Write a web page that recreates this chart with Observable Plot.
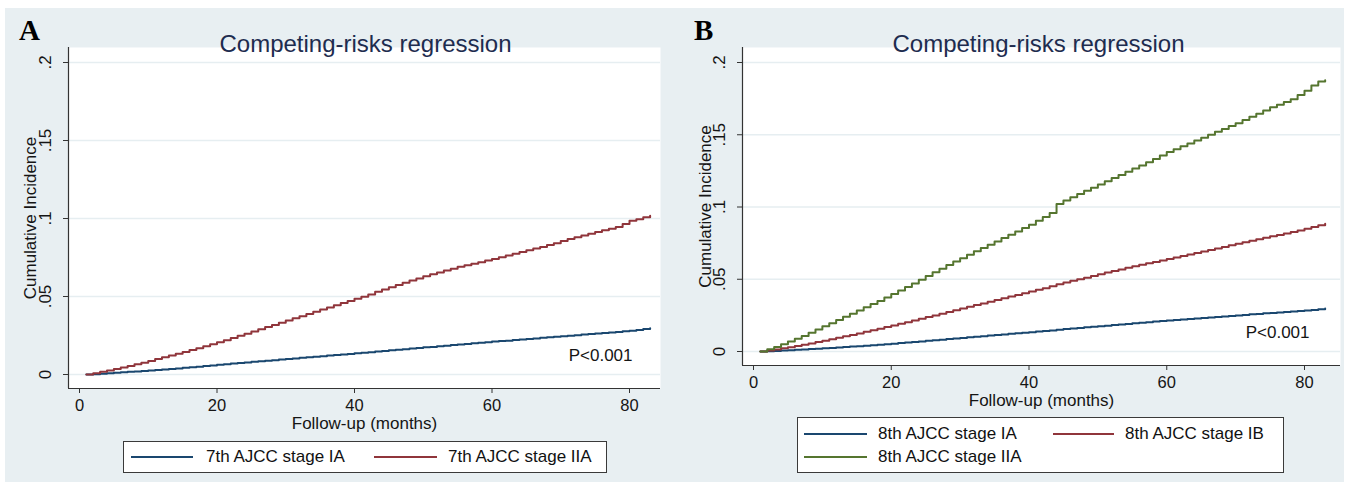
<!DOCTYPE html>
<html><head><meta charset="utf-8">
<script src="https://cdn.jsdelivr.net/npm/d3@7"></script>
<script src="https://cdn.jsdelivr.net/npm/@observablehq/plot@0.6"></script>
<style>
body{margin:0;background:#fff;}
#root{position:relative;width:1349px;height:490px;overflow:hidden;background:#fff;font-family:"Liberation Sans",Arial,sans-serif;}
.bg{position:absolute;left:5px;top:8px;width:1339px;height:474px;background:#e8eff2;}
.panel{position:absolute;top:8px;}
.letter{position:absolute;font-family:"Liberation Serif","Times New Roman",serif;font-weight:bold;font-size:29px;line-height:29px;color:#000;}
.legend{position:absolute;background:#fff;border:1px solid #3a3a3a;box-sizing:border-box;}
.item{position:absolute;font-size:17px;line-height:20px;color:#111;white-space:nowrap;}
.sw{position:absolute;height:2px;}
</style></head><body><div id="root"><div class="bg"></div></div>
<script>
const months = [1,2,3,4,5,6,7,8,9,10,11,12,13,14,15,16,17,18,19,20,21,22,23,24,25,26,27,28,29,30,31,32,33,34,35,36,37,38,39,40,41,42,43,44,45,46,47,48,49,50,51,52,53,54,55,56,57,58,59,60,61,62,63,64,65,66,67,68,69,70,71,72,73,74,75,76,77,78,79,80,81,82,83];

// Panel A: 7th AJCC
const stageIA7 = [0,.0002,.0005,.0008,.0011,.0014,.0017,.0020,.0023,.0026,.0029,.0032,.0035,.0039,.0043,.0046,.0050,.0054,.0058,.0062,.0066,.0070,.0074,.0077,.0081,.0085,.0088,.0092,.0096,.0099,.0103,.0107,.0110,.0114,.0117,.0121,.0125,.0128,.0132,.0136,.0140,.0143,.0147,.0151,.0155,.0158,.0162,.0166,.0170,.0174,.0177,.0181,.0185,.0189,.0192,.0196,.0200,.0203,.0207,.0211,.0214,.0217,.0221,.0224,.0228,.0231,.0235,.0238,.0242,.0245,.0249,.0252,.0256,.0259,.0263,.0266,.0270,.0273,.0277,.0281,.0286,.0292,.0297];
const stageIIA7 = [0,.0008,.0017,.0026,.0035,.0045,.0055,.0065,.0076,.0087,.0099,.0110,.0122,.0133,.0145,.0157,.0169,.0181,.0194,.0207,.0220,.0234,.0248,.0262,.0276,.0290,.0304,.0318,.0332,.0346,.0360,.0374,.0388,.0402,.0416,.0430,.0444,.0458,.0471,.0485,.0499,.0513,.0530,.0545,.0560,.0574,.0588,.0602,.0616,.0630,.0642,.0654,.0666,.0678,.0690,.0700,.0710,.0720,.0730,.0740,.0752,.0763,.0774,.0785,.0796,.0807,.0818,.0830,.0842,.0855,.0868,.0880,.0891,.0902,.0913,.0924,.0935,.0945,.0965,.0985,.0995,.1008,.1018];

// Panel B: 8th AJCC
const stageIA8 = [0,.0002,.0004,.0007,.0009,.0012,.0014,.0017,.0019,.0022,.0025,.0028,.0031,.0034,.0037,.0040,.0043,.0046,.0050,.0054,.0058,.0062,.0066,.0070,.0074,.0078,.0082,.0086,.0090,.0094,.0098,.0102,.0106,.0110,.0114,.0118,.0122,.0126,.0130,.0134,.0138,.0142,.0146,.0151,.0155,.0159,.0163,.0167,.0171,.0175,.0179,.0183,.0187,.0191,.0195,.0199,.0203,.0207,.0211,.0215,.0218,.0222,.0225,.0229,.0232,.0236,.0239,.0243,.0246,.0250,.0253,.0257,.0260,.0264,.0267,.0270,.0274,.0277,.0280,.0284,.0288,.0293,.0297];
const stageIB8 = [0,.0007,.0014,.0022,.0030,.0038,.0046,.0055,.0065,.0075,.0085,.0095,.0105,.0115,.0125,.0136,.0147,.0158,.0169,.0180,.0192,.0203,.0215,.0227,.0238,.0250,.0262,.0273,.0285,.0297,.0309,.0321,.0333,.0344,.0356,.0368,.0380,.0391,.0403,.0415,.0427,.0438,.0452,.0466,.0478,.0489,.0500,.0511,.0522,.0534,.0546,.0557,.0568,.0579,.0590,.0600,.0610,.0620,.0630,.0640,.0650,.0661,.0671,.0682,.0692,.0703,.0713,.0724,.0735,.0745,.0756,.0766,.0777,.0787,.0797,.0807,.0817,.0827,.0838,.0850,.0862,.0874,.0884];
const stageIIA8 = [0,.0015,.0032,.0050,.0069,.0088,.0108,.0130,.0152,.0174,.0196,.0218,.0240,.0262,.0284,.0306,.0328,.0350,.0374,.0398,.0422,.0446,.0471,.0496,.0522,.0548,.0573,.0598,.0622,.0646,.0670,.0693,.0716,.0739,.0762,.0785,.0808,.0831,.0854,.0877,.0905,.0930,.0958,.1020,.1045,.1068,.1090,.1112,.1134,.1156,.1178,.1200,.1222,.1244,.1266,.1288,.1310,.1333,.1356,.1380,.1400,.1420,.1440,.1460,.1480,.1500,.1520,.1540,.1560,.1580,.1602,.1624,.1646,.1668,.1690,.1708,.1726,.1745,.1775,.1805,.1840,.1868,.1878];

const yTicks = [0, 0.05, 0.1, 0.15, 0.2];
const yTickLabels = ["0", ".05", ".1", ".15", ".2"];
const xTicks = [0, 20, 40, 60, 80];
const titleText = "Competing-risks regression";
const xTitle = "Follow-up (months)";
const yTitle = "Cumulative Incidence";
const pText = "P<0.001";

const NAVY = "#1a476f", MAROON = "#90353b", GREEN = "#55752f";
const FONT = '"Liberation Sans", Arial, sans-serif';
const GRID = "#e6eef1", AXIS = "#333333", TEXT = "#151515", TITLE = "#1e2c4f";

const root = document.getElementById("root");

function makePanel(cfg) {
  const data = [];
  cfg.series.forEach(s => s.values.forEach((v, i) => data.push({month: months[i], ci: v, stage: s.name})));
  const plot = Plot.plot({
    width: cfg.width, height: 474,
    marginLeft: cfg.ml, marginTop: 39, marginRight: cfg.mr, marginBottom: cfg.mb,
    style: {background: "transparent", fontFamily: FONT, overflow: "visible"},
    x: {domain: [0, 80], insetLeft: 11, insetRight: cfg.xInsetRight},
    y: {domain: [0, 0.2], insetTop: 15, insetBottom: 14},
    color: {domain: cfg.series.map(s => s.name), range: cfg.series.map(s => s.color)},
    marks: [
      Plot.frame({fill: "white", stroke: null}),
      Plot.gridY(yTicks, {stroke: GRID, strokeOpacity: 1, strokeWidth: 1.5}),
      Plot.line(data, {x: "month", y: "ci", stroke: "stage", curve: "step-after", strokeWidth: 2}),
      Plot.ruleY([0], {dy: 14, stroke: AXIS, strokeWidth: 1.2}),
      Plot.ruleX([0], {dx: -11, stroke: AXIS, strokeWidth: 1.2}),
      Plot.axisY(yTicks, {tickSize: 5, tickFormat: () => "", stroke: AXIS, label: null}),
      Plot.axisX(xTicks, {tickSize: 5, tickPadding: 6, fontSize: 16.5, color: TEXT, stroke: AXIS, label: null}),
      Plot.text(yTicks, {y: d => d, text: (d, i) => yTickLabels[i], frameAnchor: "left", dx: -23, rotate: -90, textAnchor: "middle", fontSize: 17, fill: TEXT}),
      Plot.text([yTitle], {frameAnchor: "left", dx: cfg.ytdx, rotate: -90, textAnchor: "middle", fontSize: 17, fill: TEXT}),
      Plot.text([xTitle], {frameAnchor: "bottom", dy: 40.5, fontSize: 17, fill: TEXT}),
      Plot.text([titleText], {frameAnchor: "top", dy: -12.7, dx: cfg.titleDx, fontSize: 24, fill: TITLE}),
      Plot.text([pText], {frameAnchor: "bottom-right", dx: cfg.pdx, dy: -27.4, textAnchor: "end", fontSize: 17, fill: TEXT})
    ]
  });
  plot.classList.add("panel");
  plot.style.left = cfg.left + "px";
  root.appendChild(plot);

  const letter = document.createElement("div");
  letter.className = "letter";
  letter.textContent = cfg.letter;
  letter.style.left = cfg.letterX + "px";
  letter.style.top = "16px";
  root.appendChild(letter);

  const lg = document.createElement("div");
  lg.className = "legend";
  Object.assign(lg.style, {left: cfg.legend.x + "px", top: cfg.legend.y + "px", width: cfg.legend.w + "px", height: cfg.legend.h + "px"});
  root.appendChild(lg);
  cfg.series.forEach((s, i) => {
    const pos = cfg.legend.items[i];
    const sw = document.createElement("div");
    sw.className = "sw";
    Object.assign(sw.style, {left: (pos.sx - cfg.legend.x) + "px", top: (pos.cy - cfg.legend.y - 2) + "px", width: pos.sw + "px", background: s.color});
    lg.appendChild(sw);
    const t = document.createElement("div");
    t.className = "item";
    t.textContent = s.name;
    Object.assign(t.style, {left: (pos.tx - cfg.legend.x) + "px", top: (pos.cy - cfg.legend.y - 11) + "px"});
    lg.appendChild(t);
  });
}

makePanel({
  letter: "A", letterX: 19, left: 5, width: 676, ml: 63, mr: 21, mb: 94, xInsetRight: 31, ytdx: -38, titleDx: 1, pdx: -28,
  series: [
    {name: "7th AJCC stage IA", values: stageIA7, color: NAVY},
    {name: "7th AJCC stage IIA", values: stageIIA7, color: MAROON}
  ],
  legend: {x: 123, y: 441, w: 484, h: 32, items: [
    {sx: 130, sw: 62, tx: 205, cy: 457},
    {sx: 373, sw: 63, tx: 447, cy: 457}
  ]}
});

makePanel({
  letter: "B", letterX: 694, left: 684, width: 660, ml: 58, mr: 4, mb: 117, xInsetRight: 36, ytdx: -37, titleDx: -3, pdx: -31,
  series: [
    {name: "8th AJCC stage IA", values: stageIA8, color: NAVY},
    {name: "8th AJCC stage IB", values: stageIB8, color: MAROON},
    {name: "8th AJCC stage IIA", values: stageIIA8, color: GREEN}
  ],
  legend: {x: 797, y: 417, w: 487, h: 56, items: [
    {sx: 803, sw: 63, tx: 877, cy: 434},
    {sx: 1052, sw: 61, tx: 1124, cy: 434},
    {sx: 803, sw: 63, tx: 877, cy: 457}
  ]}
});
</script></body></html>
